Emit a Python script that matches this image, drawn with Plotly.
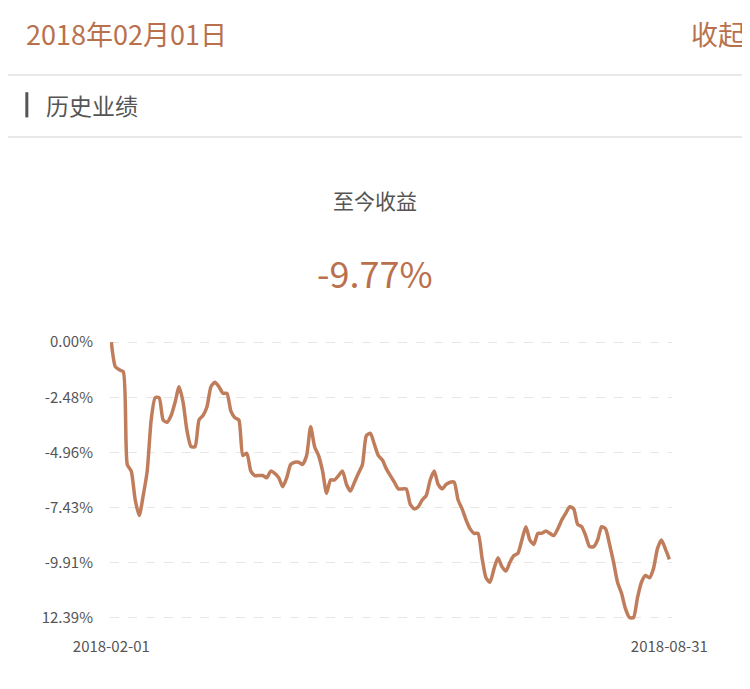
import pandas as pd
import plotly.graph_objects as go

# cumulative return (%), 2018-02-01 .. 2018-08-31
returns = [0, -1.1, -1.24, -1.33, -5.5, -5.8, -7.1, -7.8, -6.9, -5.8, -3.5, -2.5, -2.5, -3.5, -3.6,
           -3.3, -2.7, -2.0, -2.7, -4.0, -4.7, -4.7, -3.5, -3.3, -2.9, -2.0, -1.8, -2.0, -2.3, -2.3,
           -3.1, -3.4, -3.5, -5.1, -5.0, -5.8, -6.0, -6.0, -6.0, -6.1, -5.8, -5.9, -6.1, -6.5, -6.1,
           -5.5, -5.4, -5.4, -5.5, -5.1, -3.8, -4.7, -5.1, -5.8, -6.8, -6.2, -6.2, -6.0, -5.8, -6.4,
           -6.7, -6.3, -5.9, -5.5, -4.2, -4.1, -4.6, -5.1, -5.3, -5.7, -6.0, -6.3, -6.6, -6.6, -6.6,
           -7.3, -7.5, -7.4, -7.1, -6.9, -6.2, -5.8, -6.4, -6.6, -6.4, -6.3, -6.3, -7.1, -7.5, -8.0,
           -8.4, -8.6, -8.6, -9.7, -10.6, -10.8, -10.2, -9.7, -10.1, -10.3, -9.9, -9.6, -9.5, -8.9,
           -8.3, -8.9, -9.1, -8.6, -8.6, -8.5, -8.6, -8.7, -8.4, -8.0, -7.7, -7.4, -7.5, -8.2, -8.3,
           -8.7, -9.2, -9.2, -8.9, -8.3, -8.4, -9.1, -9.9, -10.8, -11.3, -12.0, -12.39, -12.39,
           -11.5, -10.8, -10.5, -10.6, -10.2, -9.3, -8.9, -9.3, -9.77]
dates = pd.date_range("2018-02-01", "2018-08-31", periods=len(returns))

y_ticks = [0, -2.48, -4.96, -7.43, -9.91, -12.39]
y_labels = ["0.00%", "-2.48%", "-4.96%", "-7.43%", "-9.91%", "12.39%"]
x_ticks = [dates[0], dates[-1]]
x_labels = ["2018-02-01", "2018-08-31"]

brown = "#b9714d"
font = "Noto Sans CJK SC"

fig = go.Figure(go.Scatter(x=dates, y=returns, mode="lines",
                           line=dict(color="#c07d5c", width=3.5, shape="spline", smoothing=0.6),
                           hoverinfo="skip"))

fig.update_layout(
    width=734, height=673, paper_bgcolor="white", plot_bgcolor="white",
    margin=dict(l=102, r=70, t=332, b=61), showlegend=False,
    font=dict(family=font, color="#666"),
    xaxis=dict(range=[dates[0] - pd.Timedelta(hours=12), dates[-1] + pd.Timedelta(days=1)],
               tickvals=x_ticks, ticktext=x_labels, showgrid=False, zeroline=False,
               showline=False, ticks="", ticklabelstandoff=16,
               tickfont=dict(size=15, color="#555")),
    yaxis=dict(range=[-12.5, 0.1], tickvals=y_ticks, ticktext=y_labels, zeroline=False,
               showgrid=True, gridcolor="#e6e6e6", griddash="dash", gridwidth=1,
               ticks="", ticklabelstandoff=16, tickfont=dict(size=15, color="#555")),
    shapes=[
        dict(type="line", xref="paper", yref="paper", x0=-0.2, x1=1.14, y0=1.946, y1=1.946,
             line=dict(color="#e8e8e8", width=2)),
        dict(type="line", xref="paper", yref="paper", x0=-0.2, x1=1.14, y0=1.725, y1=1.725,
             line=dict(color="#e8e8e8", width=2)),
        dict(type="line", xref="paper", yref="paper", x0=-0.148, x1=-0.148, y0=1.795, y1=1.885,
             line=dict(color="#555", width=3)),
    ],
    annotations=[
        dict(text="2018年02月01日", xref="paper", yref="paper", x=-0.153, y=2.096,
             xanchor="left", yanchor="middle", showarrow=False, font=dict(size=27, color=brown)),
        dict(text="收起", xref="paper", yref="paper", x=1.134, y=2.096,
             xanchor="right", yanchor="middle", showarrow=False, font=dict(size=27, color=brown)),
        dict(text="历史业绩", xref="paper", yref="paper", x=-0.118, y=1.839,
             xanchor="left", yanchor="middle", showarrow=False, font=dict(size=23, color="#555")),
        dict(text="至今收益", xref="paper", yref="paper", x=0.4715, y=1.5,
             xanchor="center", yanchor="middle", showarrow=False, font=dict(size=21, color="#555")),
        dict(text="-9.77%", xref="paper", yref="paper", x=0.4715, y=1.243,
             xanchor="center", yanchor="middle", showarrow=False, font=dict(size=36, color=brown)),
    ],
)

fig.write_html("out.html")
